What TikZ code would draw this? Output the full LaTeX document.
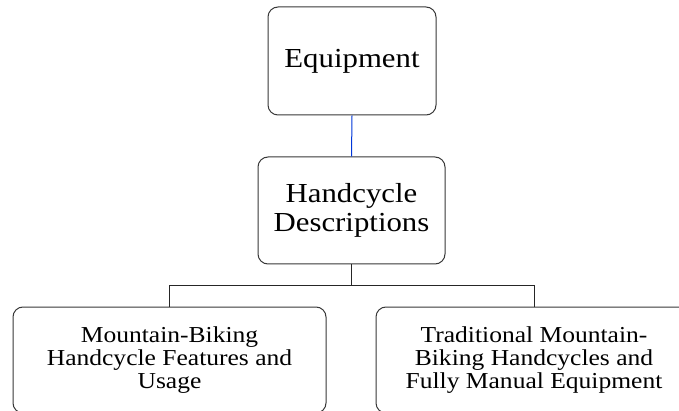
\documentclass[tikz,border=0pt]{standalone}
\usepackage{fontspec}
\setmainfont[FakeStretch=1.12]{Liberation Serif}
\begin{document}
\begin{tikzpicture}[x=1pt,y=-1pt,
  box/.style={draw=black!78, line width=1pt, rounded corners=10pt, fill=white,
    align=center, inner sep=0pt},
  link/.style={draw=black!85, line width=1pt},
  toplink/.style={draw=blue!75!cyan!85!black, line width=1pt}]
  \useasboundingbox (0,0) rectangle (679,411);
  \fill[white] (0,0) rectangle (679,411);

  % hierarchy boxes
  \node[box, minimum width=168pt, minimum height=108pt,
        font=\fontsize{27.5}{30}\selectfont] (eq) at (352,61) {Equipment};
  \node[box, minimum width=187pt, minimum height=107pt,
        font=\fontsize{27.5}{29}\selectfont] (hc) at (351.5,210.5)
        {Handcycle\\Descriptions};
  \node[box, minimum width=313pt, minimum height=106pt,
        font=\fontsize{22.8}{22.7}\selectfont] (left) at (169.5,360)
        {\raisebox{-2pt}{\parbox{300pt}{\centering Mountain-Biking\\Handcycle Features and\\Usage}}};
  \node[box, minimum width=316pt, minimum height=106pt,
        font=\fontsize{22.8}{22.7}\selectfont] (right) at (534,360)
        {\raisebox{-2pt}{\parbox{300pt}{\centering Traditional Mountain-\\Biking Handcycles and\\Fully Manual Equipment}}};

  % connectors
  \coordinate (bus) at (352,285);
  \draw[toplink] (eq.south) -- (hc.north);
  \draw[link] (hc.south) -- (hc.south |- bus) -| (left.north);
  \draw[link] (hc.south |- bus) -| (right.north);
\end{tikzpicture}
\end{document}
